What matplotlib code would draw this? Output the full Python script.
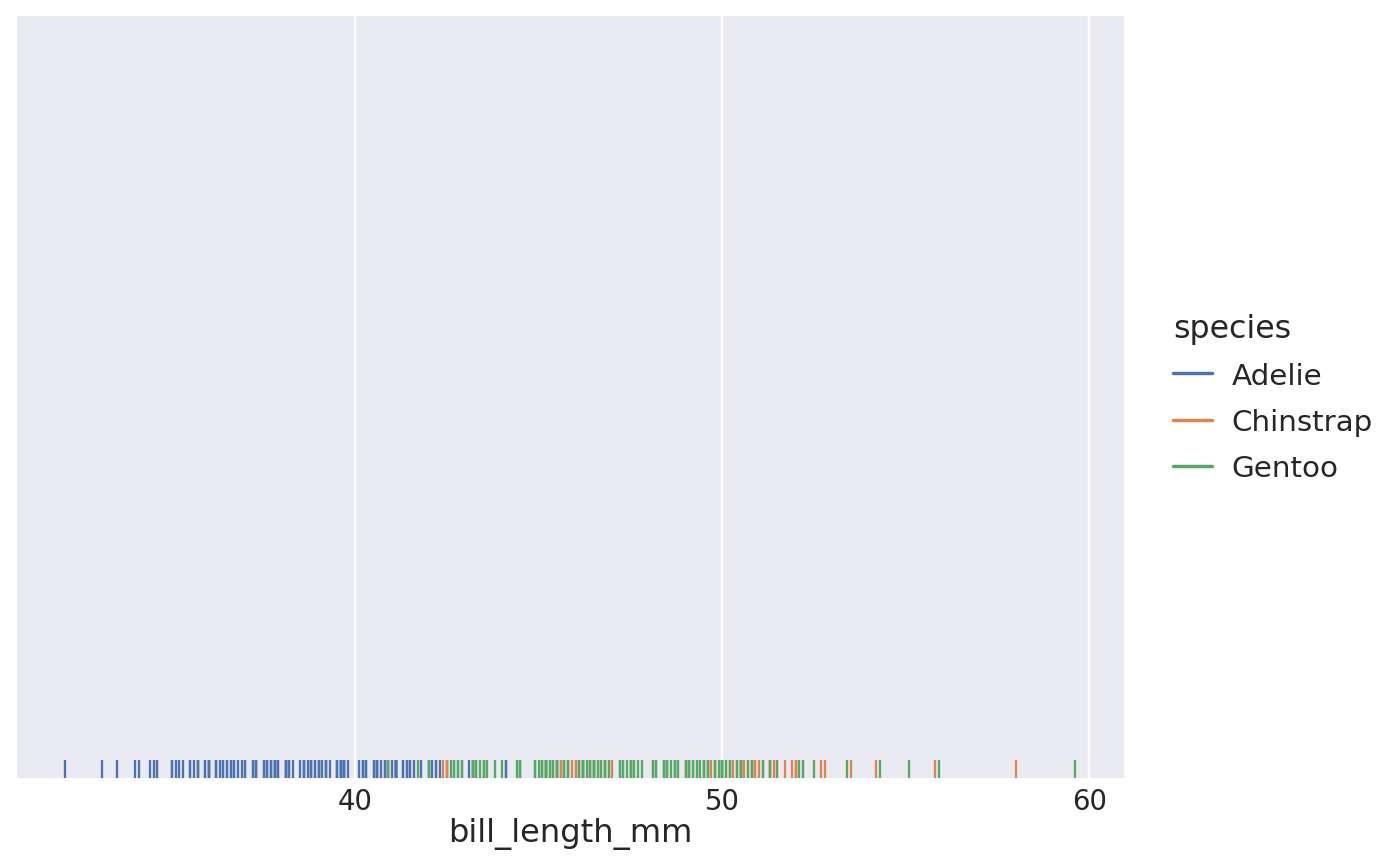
import numpy as np
import pandas as pd
import seaborn as sns
import matplotlib
matplotlib.use("Agg")
import matplotlib.pyplot as plt
from matplotlib.ticker import MultipleLocator

# bill lengths (mm) per species, missing values dropped
adelie = [39.1, 39.5, 40.3, 36.7, 39.3, 38.9, 39.2, 34.1, 42.0, 37.8, 37.8, 41.1, 38.6, 34.6,
          36.6, 38.7, 42.5, 34.4, 46.0, 37.8, 37.7, 35.9, 38.2, 38.8, 35.3, 40.6, 40.5, 37.9,
          40.5, 39.5, 37.2, 39.5, 40.9, 36.4, 39.2, 38.8, 42.2, 37.6, 39.8, 36.5, 40.8, 36.0,
          44.1, 37.0, 39.6, 41.1, 37.5, 36.0, 42.3, 39.6, 40.1, 35.0, 42.0, 34.5, 41.4, 39.0,
          40.6, 36.5, 37.6, 35.7, 41.3, 37.6, 41.1, 36.4, 41.6, 35.5, 41.1, 35.9, 41.8, 33.5,
          39.7, 39.6, 45.8, 35.5, 42.8, 40.9, 37.2, 36.2, 42.1, 34.6, 42.9, 36.7, 35.1, 37.3,
          41.3, 36.3, 36.9, 38.3, 38.9, 35.7, 41.1, 34.0, 39.6, 36.2, 40.8, 38.1, 40.3, 33.1,
          43.2, 35.0, 41.0, 37.7, 37.8, 37.9, 39.7, 38.6, 38.2, 38.1, 43.2, 38.1, 45.6, 39.7,
          42.2, 39.6, 42.7, 38.6, 37.3, 35.7, 41.1, 36.2, 37.7, 40.2, 41.4, 35.2, 40.6, 38.8,
          41.5, 39.0, 44.1, 38.5, 43.1, 36.8, 37.5, 38.1, 41.1, 35.6, 40.2, 37.0, 39.7, 40.2,
          40.6, 32.1, 40.7, 37.3, 39.0, 39.2, 36.6, 36.0, 37.8, 36.0, 41.5]
chinstrap = [46.5, 50.0, 51.3, 45.4, 52.7, 45.2, 46.1, 51.3, 46.0, 51.3, 46.6, 51.7, 47.0, 52.0,
             45.9, 50.5, 50.3, 58.0, 46.4, 49.2, 42.4, 48.5, 43.2, 50.6, 46.7, 52.0, 50.5, 49.5,
             46.4, 52.8, 40.9, 54.2, 42.5, 51.0, 49.7, 47.5, 47.6, 52.0, 46.9, 53.5, 49.0, 46.2,
             50.9, 45.5, 50.9, 50.8, 50.1, 49.0, 51.5, 49.8, 48.1, 51.4, 45.7, 50.7, 42.5, 52.2,
             45.2, 49.3, 50.2, 45.6, 51.9, 46.8, 45.7, 55.8, 43.5, 49.6, 50.8, 50.2]
gentoo = [46.1, 50.0, 48.7, 50.0, 47.6, 46.5, 45.4, 46.7, 43.3, 46.8, 40.9, 49.0, 45.5, 48.4,
          45.8, 49.3, 42.0, 49.2, 46.2, 48.7, 50.2, 45.1, 46.5, 46.3, 42.9, 46.1, 44.5, 47.8,
          48.2, 50.0, 47.3, 42.8, 45.1, 59.6, 49.1, 48.4, 42.6, 44.4, 44.0, 48.7, 42.7, 49.6,
          45.3, 49.6, 50.5, 43.6, 45.5, 50.5, 44.9, 45.2, 46.6, 48.5, 45.1, 50.1, 46.5, 45.0,
          43.8, 45.5, 43.2, 50.4, 45.3, 46.2, 45.7, 54.3, 45.8, 49.8, 46.2, 49.5, 43.5, 50.7,
          47.7, 46.4, 48.2, 46.5, 46.4, 48.6, 47.5, 51.1, 45.2, 45.2, 49.1, 52.5, 47.4, 50.0,
          44.9, 50.8, 43.4, 51.3, 47.5, 52.1, 47.5, 52.2, 45.5, 49.5, 44.5, 50.8, 49.4, 46.9,
          48.4, 51.1, 48.5, 55.9, 47.2, 49.1, 47.3, 46.8, 41.7, 53.4, 43.3, 48.1, 50.5, 49.8,
          43.5, 51.5, 46.2, 55.1, 44.5, 48.8, 47.2, 46.8, 50.4, 45.2, 49.9]
species_names = ["Adelie", "Chinstrap", "Gentoo"]

df = pd.DataFrame({
    "bill_length_mm": adelie + chinstrap + gentoo,
    "species": ["Adelie"] * len(adelie) + ["Chinstrap"] * len(chinstrap) + ["Gentoo"] * len(gentoo),
})

sns.set_theme()
dpi = 165
fig = plt.figure(figsize=(1400 / dpi, 866 / dpi), dpi=dpi)
ax = fig.add_axes([15 / 1400, 86 / 866, 1110 / 1400, 765 / 866])
sns.rugplot(data=df, x="bill_length_mm", hue="species", hue_order=species_names,
            height=0.025, linewidth=1, ax=ax)
ax.set_yticks([])
ax.set_ylabel("")
ax.xaxis.set_major_locator(MultipleLocator(10))
ax.tick_params(axis="x", length=0, pad=3.5, labelsize=12)
ax.set_xlabel("bill_length_mm", fontsize=14, labelpad=1)
sns.move_legend(ax, "center left", bbox_to_anchor=(1147 / 1400, 0.540),
                bbox_transform=fig.transFigure, frameon=False,
                title="species", fontsize=12.8, title_fontsize=13.8,
                handlelength=1.33, handletextpad=0.65, labelspacing=0.62)
ax.get_legend()._legend_box.align = "left"

fig.savefig("out.png", dpi=dpi)
